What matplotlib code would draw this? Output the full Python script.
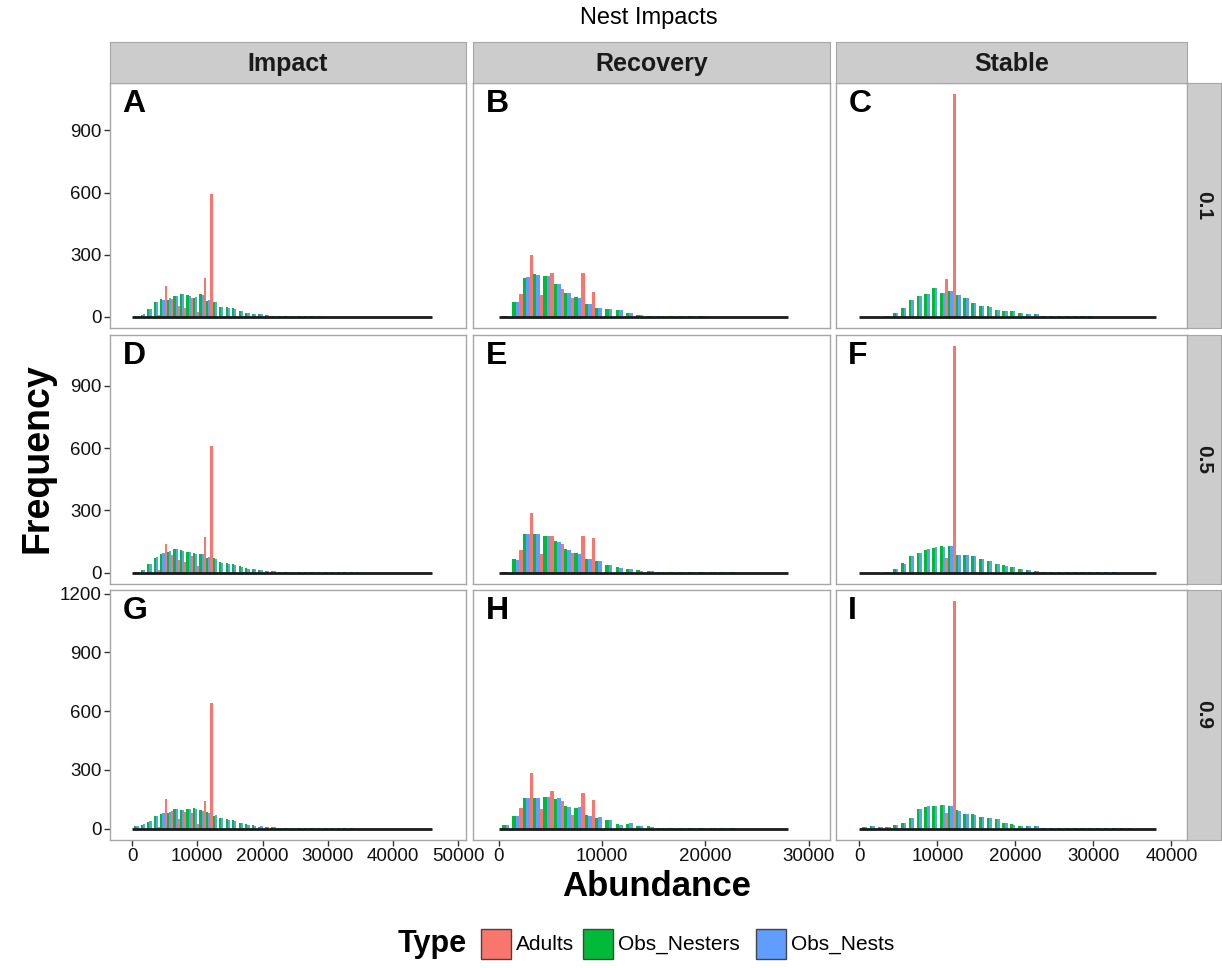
import numpy as np
import matplotlib.pyplot as plt
from matplotlib.patches import Rectangle

plt.rcParams['font.family'] = ['Liberation Sans', 'DejaVu Sans']

W, H = 1222, 968

types = ['Adults', 'Obs_Nesters', 'Obs_Nests']
colors = ['#F8766D', '#00BA38', '#619CFF']
scenarios = ['Impact', 'Recovery', 'Stable']
rates = ['0.1', '0.5', '0.9']
letters = [['A', 'B', 'C'], ['D', 'E', 'F'], ['G', 'H', 'I']]

binwidth = 1000
n_bins = [46, 28, 38]

# histogram counts per 1000-wide bin, starting at 0
A_adults = [0, 0, 0, 0, 10, 148, 87, 53, 45, 89, 24, 187, 595]
A_nesters = [2, 10, 37, 70, 85, 82, 100, 110, 105, 93, 110, 77, 70, 48, 48, 45, 30, 21, 16, 13, 10, 6, 5, 4, 3, 3, 2, 2, 2, 1, 1, 1, 1, 1, 1, 1]
A_nests = [3, 12, 40, 72, 80, 89, 100, 110, 100, 95, 105, 80, 70, 48, 45, 40, 28, 19, 15, 12, 9, 6, 5, 4, 3, 3, 2, 2, 2, 1, 1, 1, 1, 1, 1, 1]

B_adults = [0, 0, 110, 298, 105, 210, 135, 89, 210, 118]
B_nesters = [3, 73, 189, 206, 197, 161, 116, 94, 60, 45, 40, 35, 21, 11, 6, 4, 3, 3, 2, 2, 1, 1, 1]
B_nests = [3, 72, 192, 203, 197, 161, 116, 89, 60, 45, 37, 33, 18, 10, 5, 4, 3, 3, 2, 2, 1, 1, 1]

C_adults = [0, 0, 0, 0, 0, 0, 0, 0, 0, 0, 0, 185, 1075]
C_nesters = [0, 0, 0, 3, 21, 45, 81, 100, 108, 140, 113, 124, 105, 89, 65, 52, 52, 35, 29, 29, 21, 13, 13, 6, 5, 4, 3, 3, 2, 2, 1, 1, 1, 1]
C_nests = [0, 0, 0, 3, 19, 45, 79, 100, 110, 140, 113, 124, 105, 89, 65, 52, 50, 35, 29, 27, 21, 13, 12, 6, 5, 4, 3, 3, 2, 2, 1, 1, 1, 1]

D_adults = [0, 0, 0, 0, 15, 140, 85, 60, 50, 80, 30, 170, 612]
D_nesters = [2, 12, 40, 72, 92, 100, 112, 108, 100, 95, 92, 72, 70, 50, 45, 40, 30, 22, 17, 13, 10, 7, 5, 4, 3, 3, 2, 2, 2, 1, 1, 1, 1, 1, 1]
D_nests = [3, 13, 42, 75, 95, 102, 115, 105, 98, 92, 90, 75, 68, 48, 44, 38, 28, 20, 16, 12, 9, 7, 5, 4, 3, 3, 2, 2, 2, 1, 1, 1, 1, 1]

E_adults = [0, 0, 108, 285, 92, 178, 140, 95, 175, 165]
E_nesters = [3, 65, 186, 188, 178, 152, 112, 96, 68, 55, 38, 26, 18, 11, 7, 5, 4, 3, 2, 2, 1, 1, 1]
E_nests = [3, 63, 184, 186, 176, 150, 110, 92, 65, 55, 36, 24, 17, 10, 6, 5, 4, 3, 2, 2, 1, 1, 1]

F_adults = [0, 0, 0, 0, 0, 0, 0, 0, 0, 0, 0, 70, 1090]
F_nesters = [0, 0, 0, 3, 20, 45, 80, 95, 110, 120, 128, 130, 85, 85, 80, 65, 55, 42, 35, 28, 18, 12, 8, 5, 4, 3, 3, 2, 2, 1, 1, 1, 1]
F_nests = [0, 0, 0, 3, 18, 44, 82, 96, 112, 122, 126, 128, 86, 84, 78, 64, 54, 40, 34, 27, 17, 12, 8, 5, 4, 3, 3, 2, 2, 1, 1, 1, 1]

G_adults = [0, 0, 0, 0, 10, 150, 91, 50, 83, 81, 26, 140, 640]
G_nesters = [12, 21, 36, 65, 77, 81, 98, 95, 100, 103, 95, 83, 65, 55, 47, 43, 31, 22, 17, 10, 10, 9, 5, 4, 3, 3, 2, 2, 2, 2, 1, 1, 1, 1]
G_nests = [14, 23, 38, 67, 80, 86, 100, 97, 98, 100, 92, 80, 68, 54, 45, 40, 30, 21, 16, 11, 10, 8, 5, 4, 3, 3, 2, 2, 2, 2, 1, 1, 1, 1]

H_adults = [0, 0, 103, 284, 98, 191, 139, 69, 182, 146]
H_nesters = [21, 65, 158, 158, 160, 151, 115, 103, 69, 55, 45, 26, 26, 14, 14, 5, 4, 3, 3, 2, 2, 1, 1]
H_nests = [21, 65, 158, 158, 163, 155, 112, 110, 64, 57, 45, 21, 29, 12, 9, 5, 4, 3, 3, 2, 2, 1, 1]

I_adults = [0, 0, 0, 0, 0, 0, 0, 0, 0, 0, 0, 81, 1160]
I_nesters = [9, 12, 7, 10, 17, 31, 52, 98, 112, 115, 120, 115, 95, 74, 74, 57, 55, 50, 31, 22, 12, 12, 12, 5, 3, 3, 2, 2, 2, 1, 1, 1, 1, 1, 1]
I_nests = [9, 12, 7, 10, 17, 31, 52, 100, 115, 118, 120, 113, 92, 74, 72, 57, 53, 48, 30, 21, 12, 11, 11, 5, 3, 3, 2, 2, 2, 1, 1, 1, 1, 1, 1]

counts = [
    [(A_adults, A_nesters, A_nests), (B_adults, B_nesters, B_nests), (C_adults, C_nesters, C_nests)],
    [(D_adults, D_nesters, D_nests), (E_adults, E_nesters, E_nests), (F_adults, F_nesters, F_nests)],
    [(G_adults, G_nesters, G_nests), (H_adults, H_nesters, H_nests), (I_adults, I_nesters, I_nests)],
]

# layout in pixels
col_x = [(110, 466), (473, 830), (836, 1187)]
row_y = [(83, 328), (335, 584), (590, 840)]
xlims = [(-3370, 51150), (-2480, 32080), (-2990, 42010)]
xticks = [np.arange(0, 50001, 10000), np.arange(0, 30001, 10000), np.arange(0, 40001, 10000)]
border = '#A6A6A6'
strip_fill = '#CCCCCC'


def rect(x0, y0, x1, y1):
    return [x0 / W, 1 - y1 / H, (x1 - x0) / W, (y1 - y0) / H]


fig = plt.figure(figsize=(W / 100, H / 100), dpi=100)

for i in range(3):
    row_max = max(max(v) for j in range(3) for v in counts[i][j])
    for j in range(3):
        ax = fig.add_axes(rect(col_x[j][0], row_y[i][0], col_x[j][1], row_y[i][1]))
        nb = n_bins[j]
        centers = np.arange(nb) * binwidth + binwidth / 2
        w = binwidth / 3
        # draw right-to-left so green and red sit over the blue edges
        for k in (2, 1, 0):
            vals = counts[i][j][k]
            h = np.zeros(nb)
            h[:len(vals)] = vals
            ax.bar(centers + (k - 1) * w, h, width=w, color=colors[k], linewidth=0)
        ax.plot([0, nb * binwidth], [0, 0], color='#1a1a1a', lw=2, solid_capstyle='butt')
        ax.set_yticks(np.arange(0, 1201, 300))
        ax.set_xticks(xticks[j])
        ax.set_xlim(*xlims[j])
        ax.set_ylim(-0.05 * row_max, 1.05 * row_max)
        for s in ax.spines.values():
            s.set_color(border)
            s.set_linewidth(1)
        ax.tick_params(length=4, width=1, color='#333333', labelsize=13.5,
                       labelcolor='#111111', pad=2)
        if j > 0:
            ax.tick_params(axis='y', left=False, labelleft=False)
        if i < 2:
            ax.tick_params(axis='x', bottom=False, labelbottom=False)
        ax.text(0.035, 0.975, letters[i][j], transform=ax.transAxes, ha='left', va='top',
                fontsize=23, fontweight='bold')

# column strips
for j in range(3):
    sx = fig.add_axes(rect(col_x[j][0], 42, col_x[j][1], 83))
    sx.set_facecolor(strip_fill)
    sx.set_xticks([])
    sx.set_yticks([])
    for s in sx.spines.values():
        s.set_color(border)
    sx.text(0.5, 0.47, scenarios[j], transform=sx.transAxes, ha='center', va='center',
            fontsize=18, fontweight='bold', color='#1a1a1a')

# row strips
for i in range(3):
    sy = fig.add_axes(rect(1187, row_y[i][0], 1221, row_y[i][1]))
    sy.set_facecolor(strip_fill)
    sy.set_xticks([])
    sy.set_yticks([])
    for s in sy.spines.values():
        s.set_color(border)
    sy.text(0.5, 0.5, rates[i], transform=sy.transAxes, ha='center', va='center',
            fontsize=15, fontweight='bold', rotation=-90, color='#1a1a1a')

fig.text(649 / W, 1 - 18 / H, 'Nest Impacts', ha='center', va='center', fontsize=17)
fig.text(38 / W, 1 - 458 / H, 'Frequency', ha='center', va='center', rotation=90,
         fontsize=27, fontweight='bold')
fig.text(657 / W, 1 - 886 / H, 'Abundance', ha='center', va='center',
         fontsize=25, fontweight='bold')

# legend
ly = 944
fig.text(432 / W, 1 - ly / H, 'Type', ha='center', va='center', fontsize=22, fontweight='bold')
key_x = [481, 583, 756]
for kx, c, t in zip(key_x, colors, types):
    fig.patches.append(Rectangle((kx / W, 1 - (ly + 15) / H), 30 / W, 30 / H,
                                 transform=fig.transFigure, facecolor=c,
                                 edgecolor='#444444', linewidth=1))
    fig.text((kx + 35) / W, 1 - ly / H, t, ha='left', va='center', fontsize=15)

fig.savefig('out.png', dpi=100)
